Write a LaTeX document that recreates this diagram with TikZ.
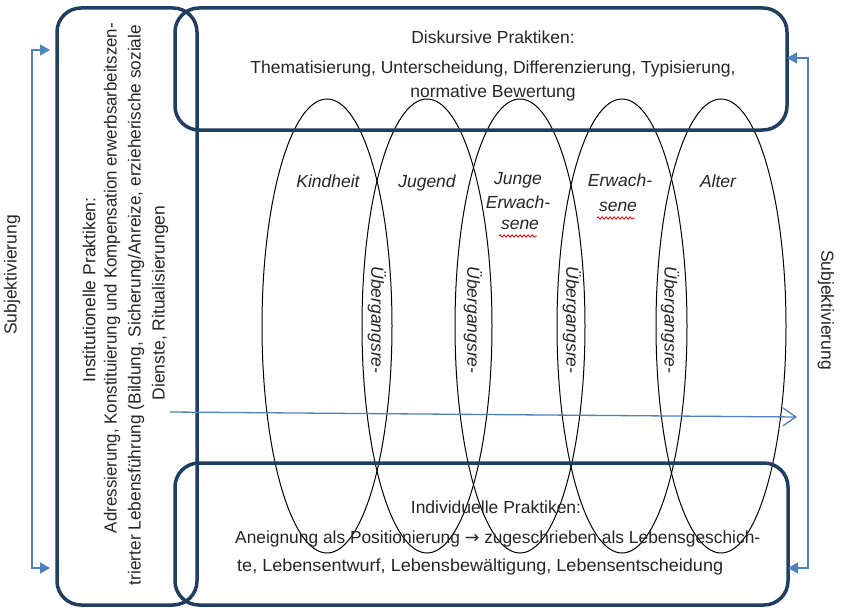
\documentclass[tikz,border=0pt]{standalone}
\usepackage{fontspec}
\setmainfont{Liberation Sans}
\newfontfamily\arrowfont{DejaVu Sans}
\usetikzlibrary{shapes.geometric,arrows.meta,decorations.pathmorphing}
\definecolor{boxblue}{RGB}{31,62,96}
\definecolor{arrblue}{RGB}{79,129,189}
\definecolor{txt}{RGB}{38,38,38}
\begin{document}
\begin{tikzpicture}[x=1pt,y=-1pt,
  font=\fontsize{17.5}{21}\selectfont,
  every node/.style={text=txt,inner sep=0pt},
  bigbox/.style={draw=boxblue,line width=3.5pt,rounded corners=24pt,rectangle,fill=none},
  phase/.style={draw=black,line width=1pt,ellipse,minimum width=130pt,minimum height=454pt,fill=none},
  plabel/.style={font=\fontsize{17.5}{21}\selectfont\itshape,align=center},
  trans/.style={font=\fontsize{17.5}{21}\selectfont\itshape,rotate=-90},
  subj/.style={draw=arrblue,line width=1.3pt,{Triangle[length=10pt,width=11pt]}-{Triangle[length=10pt,width=11pt]}},
  wavy/.style={draw=red!85!black,line width=0.8pt,decorate,decoration={snake,amplitude=1.2pt,segment length=4pt}}
  ]
\useasboundingbox (0,0) rectangle (841,610);
\fill[white] (0,0) rectangle (841,610);

% life phase ellipses
\node[phase] (kind) at (327,326) {};
\node[phase] (jug)  at (427,326) {};
\node[phase] (jer)  at (520,326) {};
\node[phase] (erw)  at (622,326) {};
\node[phase] (alt)  at (721,326) {};

% boxes
\node[bigbox,minimum width=140pt,minimum height=597pt] (inst) at (127,306.5) {};
\node[bigbox,minimum width=612pt,minimum height=122pt] (disk) at (481,69) {};
\node[bigbox,minimum width=613pt,minimum height=142pt] (indiv) at (481.5,534) {};

% box texts
\node[anchor=base] (d1) at (493,44) {Diskursive Praktiken:};
\node[anchor=base] (d2) at (493,74) {Thematisierung, Unterscheidung, Differenzierung, Typisierung,};
\node[anchor=base] (d3) at (493,97.5) {normative Bewertung};

\node[anchor=base] (i1) at (496,513) {Individuelle Praktiken:};
\node[anchor=base west] (i2) at (235,543) {\resizebox{525pt}{\height}{Aneignung als Positionierung {\arrowfont →} zugeschrieben als Lebensgeschich-}};
\node[anchor=base west] (i3) at (237,571) {\resizebox{486pt}{\height}{te, Lebensentwurf, Lebensbewältigung, Lebensentscheidung}};

\node[rotate=90] (n1) at (89,290) {Institutionelle Praktiken:};
\node[rotate=90] (n2) at (112,278) {\resizebox{510pt}{\height}{Adressierung, Konstituierung und Kompensation erwerbsarbeitszen-}};
\node[rotate=90] (n3) at (136,305) {\resizebox{560pt}{\height}{trierter Lebensführung (Bildung, Sicherung/Anreize, erzieherische soziale}};
\node[rotate=90] (n4) at (160,303) {Dienste, Ritualisierungen};

% phase labels
\node[plabel] (lk) at (328,181) {Kindheit};
\node[plabel] (lj) at (427,183) {Jugend};
\node[plabel] (lje1) at (518,180) {Junge};
\node[plabel] (lje2) at (518,202) {Erwach-};
\node[plabel] (lje3) at (520,225) {sene};
\node[plabel] (le1) at (620,180) {Erwach-};
\node[plabel] (le2) at (618,207) {sene};
\node[plabel] (la) at (718,181) {Alter};
\draw[wavy] (lje3.south west) ++(-2,6) -- ++(38,0);
\draw[wavy] (le2.south west) ++(-2,6) -- ++(38,0);

% transitions
\node[trans] (t1) at (377,320) {Übergangsre-};
\node[trans] (t2) at (473,320) {Übergangsre-};
\node[trans] (t3) at (572,320) {Übergangsre-};
\node[trans] (t4) at (670,320) {Übergangsre-};

% time arrow
\coordinate (tstart) at (170,412);
\coordinate (tend) at (797,417);
\draw[arrblue,line width=1.3pt,-{Straight Barb[length=13pt,width=18pt,line width=1.3pt]}] (tstart) -- (tend);

% Subjektivierung arrows
\coordinate (la1) at (50,50);
\coordinate (la2) at (50,568);
\draw[subj] (la1) -| (32,300) |- (la2);
\node[rotate=90] (sl) at (12,275) {Subjektivierung};

\coordinate (ra1) at (787,58);
\coordinate (ra2) at (788,568);
\draw[subj] (ra1) -| (808,300) |- (ra2);
\node[rotate=-90] (sr) at (826,310) {Subjektivierung};
\end{tikzpicture}
\end{document}
